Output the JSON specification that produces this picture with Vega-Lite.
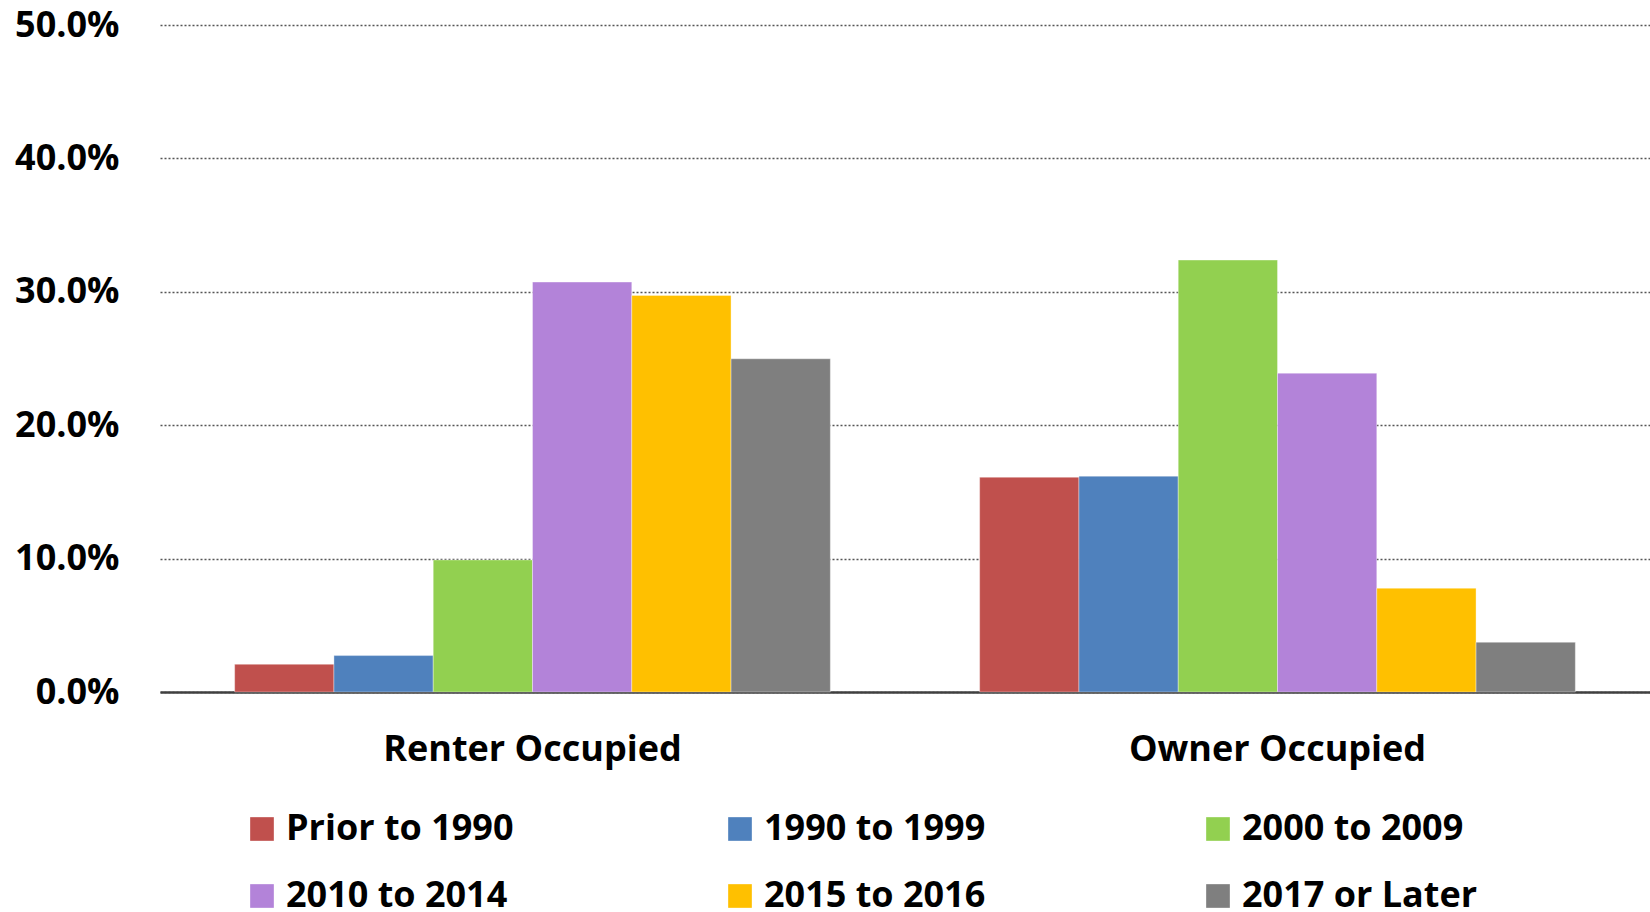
{
  "$schema": "https://vega.github.io/schema/vega-lite/v6.json",
  "autosize": {"type": "none"},
  "width": 1490,
  "height": 667,
  "padding": {"left": 160, "top": 25, "right": 0, "bottom": 220},
  "background": "white",
  "config": {
    "view": {"stroke": null},
    "font": "Open Sans"
  },
  "data": {
    "values": [
      {"group": "Renter Occupied", "period": "Prior to 1990", "value": 0.0208},
      {"group": "Renter Occupied", "period": "1990 to 1999", "value": 0.0273},
      {"group": "Renter Occupied", "period": "2000 to 2009", "value": 0.099},
      {"group": "Renter Occupied", "period": "2010 to 2014", "value": 0.3073},
      {"group": "Renter Occupied", "period": "2015 to 2016", "value": 0.2973},
      {"group": "Renter Occupied", "period": "2017 or Later", "value": 0.2498},
      {"group": "Owner Occupied", "period": "Prior to 1990", "value": 0.161},
      {"group": "Owner Occupied", "period": "1990 to 1999", "value": 0.1618},
      {"group": "Owner Occupied", "period": "2000 to 2009", "value": 0.3238},
      {"group": "Owner Occupied", "period": "2010 to 2014", "value": 0.239},
      {"group": "Owner Occupied", "period": "2015 to 2016", "value": 0.0778},
      {"group": "Owner Occupied", "period": "2017 or Later", "value": 0.0373}
    ]
  },
  "mark": {"type": "bar", "stroke": "white", "strokeWidth": 0.6, "strokeOpacity": 0.6},
  "encoding": {
    "x": {
      "field": "group",
      "type": "nominal",
      "sort": ["Renter Occupied", "Owner Occupied"],
      "scale": {"paddingInner": 0, "paddingOuter": 0},
      "axis": {
        "title": null,
        "labelAngle": 0,
        "labelFont": "Open Sans",
        "labelFontSize": 36,
        "labelFontWeight": "bold",
        "labelColor": "#000000",
        "labelPadding": 40,
        "labelLimit": 600,
        "ticks": false,
        "domainColor": "#404040",
        "domainWidth": 2.5
      }
    },
    "xOffset": {
      "field": "period",
      "type": "nominal",
      "sort": ["Prior to 1990", "1990 to 1999", "2000 to 2009", "2010 to 2014", "2015 to 2016", "2017 or Later"],
      "scale": {"paddingInner": 0, "paddingOuter": 0.752, "align": 0.5}
    },
    "y": {
      "field": "value",
      "type": "quantitative",
      "scale": {"domain": [0, 0.5], "nice": false},
      "axis": {
        "title": null,
        "values": [0, 0.1, 0.2, 0.3, 0.4, 0.5],
        "format": ".1%",
        "labelFont": "Open Sans",
        "labelFontSize": 36,
        "labelFontWeight": "bold",
        "labelColor": "#000000",
        "labelPadding": 41,
        "ticks": false,
        "domain": false,
        "grid": true,
        "gridColor": "#555555",
        "gridDash": [2, 2],
        "gridWidth": 1.3
      }
    },
    "color": {
      "field": "period",
      "type": "nominal",
      "scale": {
        "domain": ["Prior to 1990", "1990 to 1999", "2000 to 2009", "2010 to 2014", "2015 to 2016", "2017 or Later"],
        "range": ["#C0504D", "#4F81BD", "#92D050", "#B383D9", "#FFC000", "#7F7F7F"]
      },
      "legend": {
        "title": null,
        "orient": "none",
        "legendX": 84,
        "legendY": 786,
        "direction": "horizontal",
        "columns": 3,
        "gridAlign": "all",
        "columnPadding": 200,
        "rowPadding": 31,
        "padding": 0,
        "symbolType": "square",
        "symbolSize": 560,
        "symbolStrokeWidth": 0,
        "labelFont": "Open Sans",
        "labelFontSize": 36,
        "labelFontWeight": "bold",
        "labelColor": "#000000",
        "labelOffset": 6,
        "labelLimit": 400
      }
    }
  }
}
